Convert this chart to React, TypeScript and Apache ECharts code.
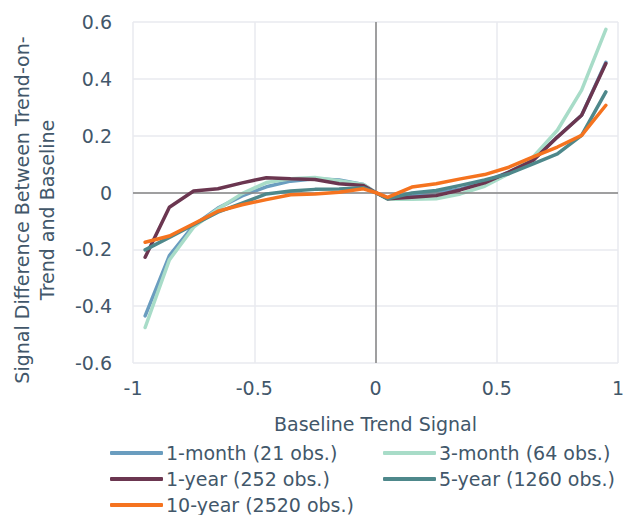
import React, { useEffect, useRef } from "react";
import * as echarts from "echarts";

const xValues = [-0.95, -0.85, -0.75, -0.65, -0.55, -0.45, -0.35, -0.25, -0.15, -0.05, 0, 0.05, 0.15, 0.25, 0.35, 0.45, 0.55, 0.65, 0.75, 0.85, 0.95];
const oneMonth = [-0.434, -0.222, -0.116, -0.055, -0.012, 0.02, 0.04, 0.048, 0.044, 0.028, 0, -0.02, -0.012, -0.002, 0.012, 0.038, 0.072, 0.115, 0.195, 0.272, 0.458];
const threeMonth = [-0.475, -0.237, -0.122, -0.058, -0.004, 0.035, 0.048, 0.053, 0.041, 0.028, 0, -0.024, -0.024, -0.022, -0.005, 0.022, 0.066, 0.125, 0.219, 0.36, 0.574];
const oneYear = [-0.228, -0.052, 0.005, 0.013, 0.034, 0.052, 0.048, 0.046, 0.031, 0.025, 0, -0.022, -0.017, -0.011, 0.009, 0.034, 0.072, 0.113, 0.195, 0.272, 0.454];
const fiveYear = [-0.202, -0.158, -0.113, -0.069, -0.037, -0.005, 0.005, 0.011, 0.012, 0.017, 0, -0.022, -0.002, 0.007, 0.025, 0.044, 0.066, 0.101, 0.136, 0.201, 0.354];
const tenYear = [-0.175, -0.153, -0.11, -0.066, -0.043, -0.025, -0.008, -0.005, 0.001, 0.013, 0, -0.017, 0.019, 0.031, 0.048, 0.063, 0.089, 0.125, 0.16, 0.201, 0.307];

const seriesNames = ["1-month (21 obs.)", "3-month (64 obs.)", "1-year (252 obs.)", "5-year (1260 obs.)", "10-year (2520 obs.)"];
const seriesValues = [oneMonth, threeMonth, oneYear, fiveYear, tenYear];
const seriesColors = ["#6a9dbf", "#a8dcc8", "#6b3650", "#4e888b", "#f5731f"];

const xAxisTitle = "Baseline Trend Signal";
const yAxisTitle = "Signal Difference Between Trend-on-\nTrend and Baseline";

const FONT = "'DejaVu Sans', sans-serif";
const FS = 19;
const TEXT = "#42576a";

export default function App() {
  const ref = useRef<HTMLDivElement>(null);
  useEffect(() => {
    if (!ref.current) return;
    const chart = echarts.init(ref.current, undefined, { renderer: "svg" });
    const series: any[] = seriesNames.map((name, i) => ({
      name,
      type: "line",
      data: xValues.map((x, j) => [x, seriesValues[i][j]]),
      showSymbol: false,
      symbol: "none",
      lineStyle: { color: seriesColors[i], width: 3.5, cap: "round", join: "round" },
      itemStyle: { color: seriesColors[i] },
      z: 3 + i,
    }));
    series.unshift({
      type: "line",
      data: [],
      silent: true,
      z: 2,
      markLine: {
        silent: true,
        symbol: "none",
        label: { show: false },
        lineStyle: { color: "#858585", width: 1.5, type: "solid" },
        data: [{ xAxis: 0 }, { yAxis: 0 }],
      },
    });
    const legendCommon = {
      orient: "vertical",
      top: 440,
      height: 120,
      itemWidth: 53,
      itemHeight: 4,
      itemGap: 0,
      icon: "roundRect",
      textStyle: { fontFamily: FONT, fontSize: FS, color: TEXT, lineHeight: 26, padding: [0, 0, 0, -2] },
      padding: 0,
      selectedMode: false,
    };
    chart.setOption({
      animation: false,
      textStyle: { fontFamily: FONT },
      grid: { left: 133, right: 17, top: 22, bottom: 152, containLabel: false },
      xAxis: {
        type: "value",
        min: -1,
        max: 1,
        interval: 0.5,
        name: xAxisTitle,
        nameLocation: "middle",
        nameGap: 51,
        nameTextStyle: { fontFamily: FONT, fontSize: FS, color: TEXT },
        axisLine: { show: false },
        axisTick: { show: false },
        axisLabel: { fontFamily: FONT, fontSize: FS, color: TEXT, margin: 15 },
        splitLine: { show: true, lineStyle: { color: "#e8eaef", width: 1.5 } },
      },
      yAxis: {
        type: "value",
        min: -0.6,
        max: 0.6,
        interval: 0.2,
        axisLine: { show: false },
        axisTick: { show: false },
        axisLabel: { fontFamily: FONT, fontSize: FS, color: TEXT, margin: 21 },
        splitLine: { show: true, lineStyle: { color: "#e8eaef", width: 1.5 } },
      },
      legend: [
        { ...legendCommon, left: 110, data: [seriesNames[0], seriesNames[2], seriesNames[4]] },
        { ...legendCommon, left: 383, data: [seriesNames[1], seriesNames[3]] },
      ],
      graphic: [
        {
          type: "text",
          x: 34,
          y: 210,
          rotation: Math.PI / 2,
          style: {
            text: yAxisTitle,
            fontFamily: FONT,
            fontSize: FS,
            fill: TEXT,
            align: "center",
            verticalAlign: "middle",
            lineHeight: 25,
          },
        },
      ],
      series,
    });
    return () => chart.dispose();
  }, []);
  return <div ref={ref} style={{ width: 635, height: 515, position: "absolute", left: 0, top: 0 }} />;
}
